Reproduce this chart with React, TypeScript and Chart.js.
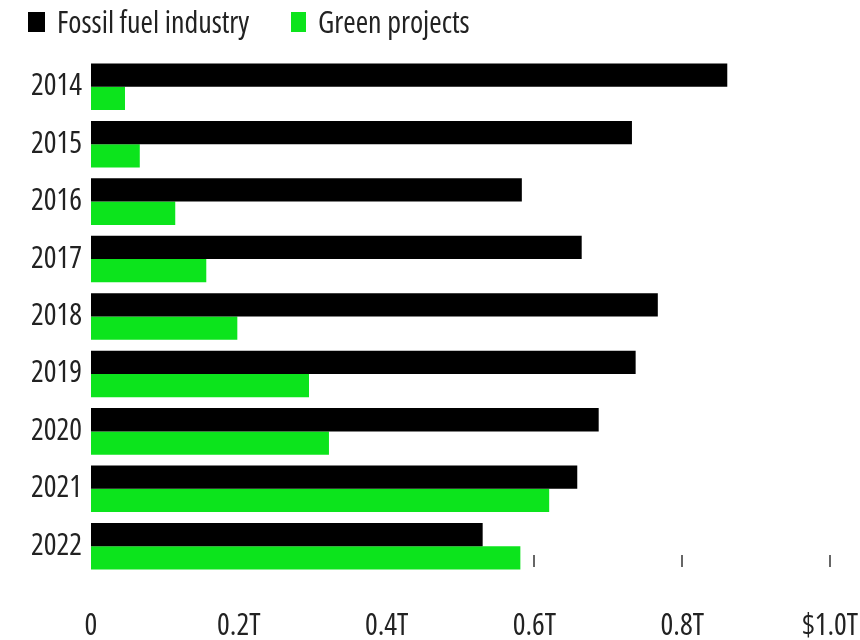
import React, { useEffect, useRef } from "react";
import { Chart, registerables } from "chart.js";

Chart.register(...registerables);

const years = ["2014", "2015", "2016", "2017", "2018", "2019", "2020", "2021", "2022"];
const fossilFuel = [0.861, 0.732, 0.583, 0.664, 0.767, 0.737, 0.687, 0.658, 0.53];
const greenProjects = [0.046, 0.066, 0.114, 0.156, 0.198, 0.295, 0.322, 0.62, 0.581];
const xTickLabels: Record<string, string> = {
  "0": "0",
  "0.2": "0.2T",
  "0.4": "0.4T",
  "0.6": "0.6T",
  "0.8": "0.8T",
  "1": "$1.0T",
};
const seriesNames = ["Fossil fuel industry", "Green projects"];
const seriesColors = ["#000000", "#0ce41c"];

const FAMILY = "'Open Sans', 'DejaVu Sans Condensed', sans-serif";
const TEXT_COLOR = "#222";

const tickMarkPlugin = {
  id: "bottomTickMarks",
  beforeDatasetsDraw(chart: any) {
    const x = chart.scales.x;
    const { ctx, chartArea } = chart;
    ctx.save();
    ctx.strokeStyle = "#666";
    ctx.lineWidth = 2;
    x.ticks.forEach((t: any) => {
      if (t.value <= 0) return;
      const px = Math.round(x.getPixelForValue(t.value));
      ctx.beginPath();
      ctx.moveTo(px, chartArea.bottom - 20);
      ctx.lineTo(px, chartArea.bottom - 8);
      ctx.stroke();
    });
    ctx.restore();
  },
};

export default function App() {
  const ref = useRef<HTMLCanvasElement>(null);

  useEffect(() => {
    if (!ref.current) return;
    const tickFont = { size: 30, family: FAMILY, weight: "condensed" as any };
    const chart = new Chart(ref.current, {
      type: "bar",
      data: {
        labels: years,
        datasets: [
          {
            label: seriesNames[0],
            data: fossilFuel,
            backgroundColor: seriesColors[0],
            barPercentage: 1,
            categoryPercentage: 0.81,
          },
          {
            label: seriesNames[1],
            data: greenProjects,
            backgroundColor: seriesColors[1],
            barPercentage: 1,
            categoryPercentage: 0.81,
          },
        ],
      },
      options: {
        indexAxis: "y",
        animation: false,
        responsive: false,
        maintainAspectRatio: false,
        layout: { padding: { top: 58, right: 30, left: 0, bottom: 0 } },
        plugins: {
          legend: { display: false },
          tooltip: { enabled: false },
        },
        scales: {
          x: {
            min: 0,
            max: 1,
            grid: { display: false, drawTicks: false },
            border: { display: false },
            afterFit: (scale: any) => {
              scale.height = 65;
              scale.paddingLeft = 0;
              scale.paddingRight = 0;
            },
            ticks: {
              stepSize: 0.2,
              padding: 33,
              maxRotation: 0,
              autoSkip: false,
              color: TEXT_COLOR,
              font: tickFont,
              callback: (v: any) => xTickLabels[String(Math.round(Number(v) * 10) / 10)] ?? "",
            },
          },
          y: {
            grid: { display: false, drawTicks: false },
            border: { display: false },
            afterFit: (scale: any) => {
              scale.width = 91;
            },
            ticks: {
              padding: 9,
              color: TEXT_COLOR,
              font: tickFont,
            },
          },
        },
      },
      plugins: [tickMarkPlugin],
    });
    return () => chart.destroy();
  }, []);

  const legendItem = (i: number, left: number, boxWidth: number) => (
    <div
      style={{
        position: "absolute",
        left,
        top: 4,
        height: 36,
        display: "flex",
        alignItems: "center",
        whiteSpace: "nowrap",
      }}
    >
      <span
        style={{
          display: "inline-block",
          width: boxWidth,
          height: 20,
          background: seriesColors[i],
          marginRight: 12,
        }}
      />
      <span
        style={{
          fontFamily: FAMILY,
          fontStretch: "condensed",
          fontSize: 30,
          color: TEXT_COLOR,
          lineHeight: "36px",
        }}
      >
        {seriesNames[i]}
      </span>
    </div>
  );

  return (
    <div style={{ position: "fixed", left: 0, top: 0, width: 860, height: 640, overflow: "hidden", background: "#fff" }}>
      <canvas ref={ref} width={860} height={640} style={{ position: "absolute", left: 0, top: 0 }} />
      {legendItem(0, 28, 17)}
      {legendItem(1, 291, 15)}
    </div>
  );
}
